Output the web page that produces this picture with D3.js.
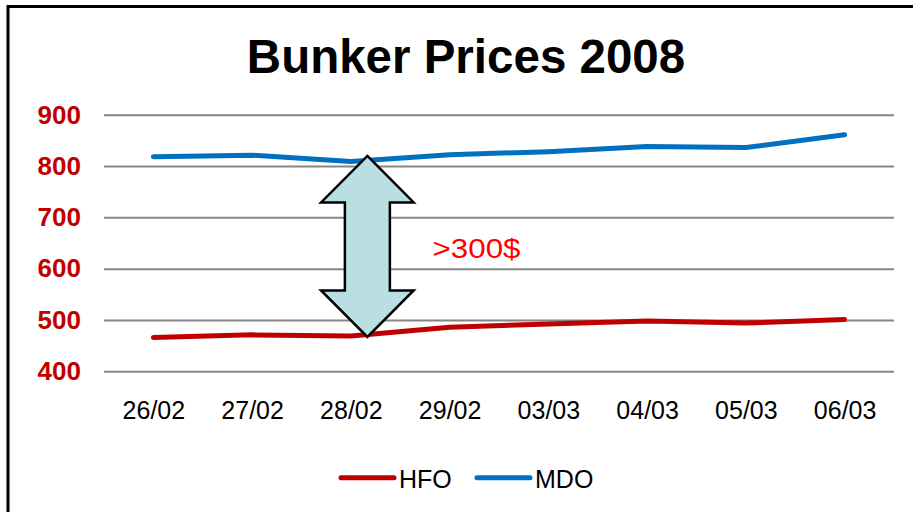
<!DOCTYPE html>
<html>
<head>
<meta charset="utf-8">
<script src="https://cdn.jsdelivr.net/npm/d3@7"></script>
<style>
  html, body { margin: 0; padding: 0; background: #fff; }
  svg { display: block; font-family: "Liberation Sans", Arial, sans-serif; }
</style>
</head>
<body>
<div id="chart"></div>
<script>
// chart data
var categories = ['26/02', '27/02', '28/02', '29/02', '03/03', '04/03', '05/03', '06/03'];
var hfo = [466, 471, 469, 486, 492, 498, 494, 501];
var mdo = [818, 821, 809, 822, 828, 838, 836, 861];
var yTicks = [400, 500, 600, 700, 800, 900];
var seriesNames = ['HFO', 'MDO'];
var seriesColors = ['#c00000', '#0070c0'];

var width = 913, height = 512;
var plotLeft = 104, plotRight = 894, plotTop = 114.7, plotBottom = 371.3;

var svg = d3.select('#chart').append('svg')
    .attr('width', width)
    .attr('height', height);

// outer frame (right/bottom edges fall outside the picture)
svg.append('rect')
    .attr('x', 8).attr('y', 6.5)
    .attr('width', 1000).attr('height', 600)
    .attr('fill', 'none')
    .attr('stroke', '#000')
    .attr('stroke-width', 3);

svg.append('text')
    .attr('x', 466).attr('y', 73.3)
    .attr('text-anchor', 'middle')
    .attr('font-size', 47.5)
    .attr('font-weight', 'bold')
    .attr('fill', '#000')
    .text('Bunker Prices 2008');

var x = d3.scalePoint().domain(categories).range([plotLeft, plotRight]).padding(0.5);
var y = d3.scaleLinear().domain([400, 900]).range([plotBottom, plotTop]);

// y axis with gridlines
var yAxis = svg.append('g')
    .attr('transform', 'translate(' + plotLeft + ',0)')
    .call(d3.axisLeft(y).tickValues(yTicks).tickSize(-(plotRight - plotLeft)).tickPadding(23));
yAxis.select('.domain').remove();
yAxis.selectAll('line').attr('stroke', '#868686').attr('stroke-width', 2);
yAxis.selectAll('text')
    .attr('font-size', 26)
    .attr('font-weight', 'bold')
    .attr('fill', '#c00000')
    .attr('font-family', '"Liberation Sans", Arial, sans-serif');

// x axis labels only
var xAxis = svg.append('g')
    .attr('transform', 'translate(0,' + plotBottom + ')')
    .call(d3.axisBottom(x).tickSize(0));
xAxis.select('.domain').remove();
xAxis.selectAll('text')
    .attr('font-size', 25)
    .attr('fill', '#000')
    .attr('dy', 0)
    .attr('font-family', '"Liberation Sans", Arial, sans-serif')
    .attr('y', 48);

var line = d3.line()
    .x(function (d, i) { return x(categories[i]); })
    .y(function (d) { return y(d); });

[hfo, mdo].forEach(function (s, i) {
    svg.append('path')
        .datum(s)
        .attr('d', line)
        .attr('fill', 'none')
        .attr('stroke', seriesColors[i])
        .attr('stroke-width', 5)
        .attr('stroke-linecap', 'round')
        .attr('stroke-linejoin', 'round');
});

// double arrow annotation between the two series at 28/02
var arrowX = x('28/02') + 16.5,
    arrowTop = y(mdo[2]) - 5.5,
    arrowBot = y(hfo[2]) + 1,
    headW = 46.3, shaftW = 22.5, headH = 46.5;
var arrow = [
    [arrowX, arrowTop], [arrowX + headW, arrowTop + headH], [arrowX + shaftW, arrowTop + headH],
    [arrowX + shaftW, arrowBot - headH], [arrowX + headW, arrowBot - headH], [arrowX, arrowBot],
    [arrowX - headW, arrowBot - headH], [arrowX - shaftW, arrowBot - headH],
    [arrowX - shaftW, arrowTop + headH], [arrowX - headW, arrowTop + headH]
];
svg.append('path')
    .attr('d', d3.line()(arrow) + 'Z')
    .attr('fill', '#b9dfe3')
    .attr('stroke', '#000')
    .attr('stroke-width', 2.5)
    .attr('stroke-linejoin', 'miter');

svg.append('text')
    .attr('x', 432.5).attr('y', 257.5)
    .attr('font-size', 27)
    .attr('fill', '#ff0000')
    .attr('textLength', 88)
    .attr('lengthAdjust', 'spacingAndGlyphs')
    .text('>300$');

// legend
var legend = svg.append('g');
var legendX = [341, 477];
seriesNames.forEach(function (name, i) {
    legend.append('line')
        .attr('x1', legendX[i]).attr('x2', legendX[i] + 53)
        .attr('y1', 477.7).attr('y2', 477.7)
        .attr('stroke', seriesColors[i])
        .attr('stroke-width', 5)
        .attr('stroke-linecap', 'round');
    legend.append('text')
        .attr('x', legendX[i] + 58).attr('y', 487.5)
        .attr('font-size', 25)
        .attr('fill', '#000')
        .text(name);
});
</script>
</body>
</html>
